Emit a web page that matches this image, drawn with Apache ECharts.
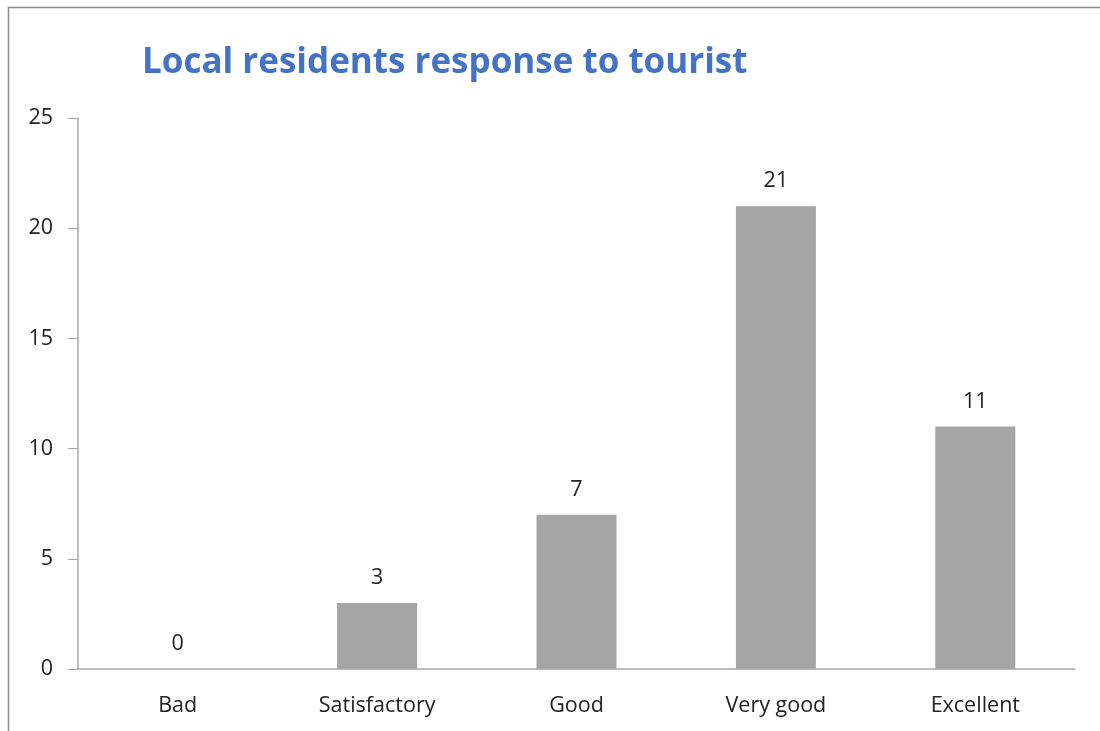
<!DOCTYPE html>
<html>
<head>
<meta charset="utf-8">
<script src="https://cdn.jsdelivr.net/npm/echarts@6/dist/echarts.min.js"></script>
<style>
  html, body { margin: 0; padding: 0; background: #fff; }
  #main { width: 1100px; height: 731px; }
</style>
</head>
<body>
<div id="main"></div>
<script>
// data
var categories = ['Bad', 'Satisfactory', 'Good', 'Very good', 'Excellent'];
var responses = [0, 3, 7, 21, 11];
var yTicks = [0, 5, 10, 15, 20, 25];

var chart = echarts.init(document.getElementById('main'));

var option = {
  backgroundColor: '#fff',
  animation: false,
  title: {
    text: 'Local residents response to tourist',
    left: 137,
    top: 41,
    textStyle: {
      fontFamily: 'Open Sans',
      fontWeight: 'bold',
      fontSize: 35,
      color: '#4472C4'
    }
  },
  // chart frame, only top and left edges show in the picture
  graphic: [{
    type: 'polyline',
    shape: { points: [[8.5, 740], [8.5, 7.5], [1110, 7.5]] },
    style: { stroke: '#8c8c8c', lineWidth: 1.5, fill: null }
  }],
  grid: { left: 78, right: 25, top: 118, bottom: 62 },
  xAxis: {
    type: 'category',
    data: categories,
    axisLine: { lineStyle: { color: '#a6a6a6', width: 1.5 } },
    axisTick: { show: false },
    axisLabel: {
      fontFamily: 'Open Sans',
      fontSize: 21.5,
      color: '#222',
      margin: 26
    }
  },
  yAxis: {
    type: 'value',
    min: yTicks[0],
    max: yTicks[yTicks.length - 1],
    interval: 5,
    splitLine: { show: false },
    axisLine: { show: true, lineStyle: { color: '#a6a6a6', width: 1.5 } },
    axisTick: { show: true, length: 10, lineStyle: { color: '#a6a6a6' } },
    axisLabel: {
      fontFamily: 'Open Sans',
      fontSize: 21.5,
      color: '#222',
      margin: 25
    }
  },
  series: [{
    type: 'bar',
    data: responses,
    barWidth: 80,
    itemStyle: { color: '#a5a5a5' },
    label: {
      show: true,
      position: 'top',
      distance: 14,
      fontFamily: 'Open Sans',
      fontSize: 21.5,
      color: '#222'
    }
  }]
};

chart.setOption(option);
</script>
</body>
</html>
